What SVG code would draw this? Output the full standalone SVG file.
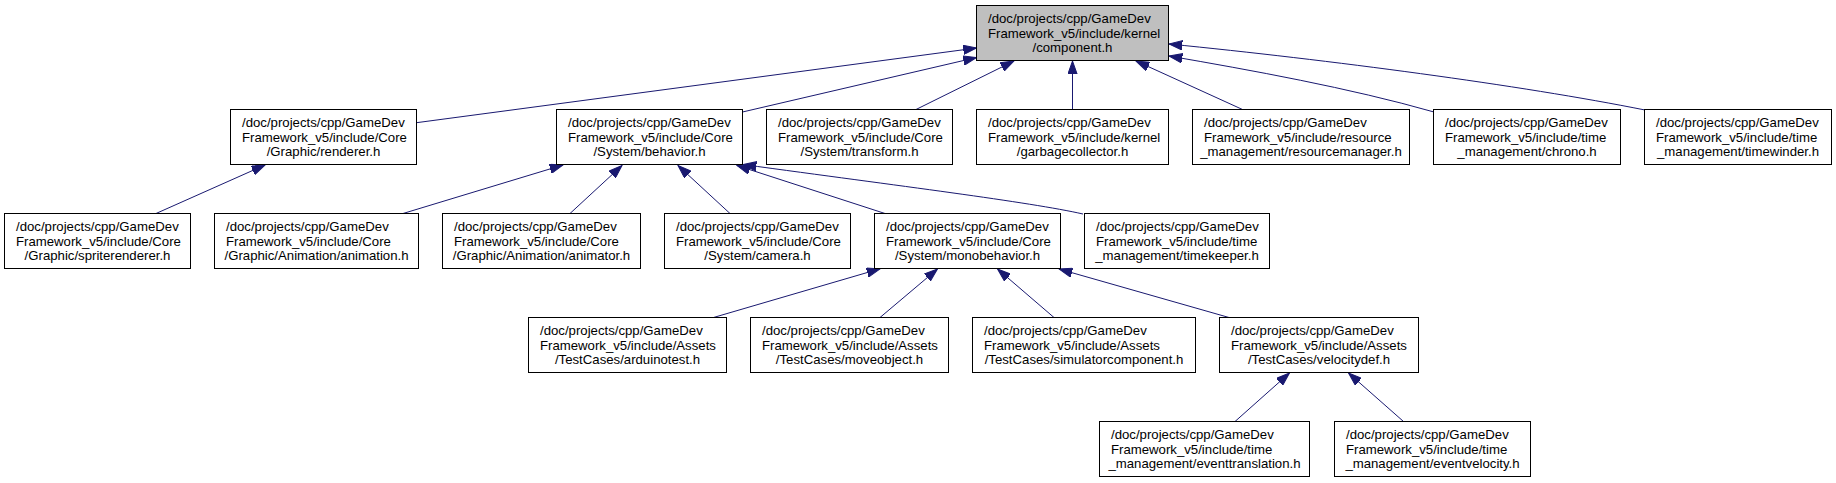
<svg xmlns="http://www.w3.org/2000/svg" width="1836" height="483" viewBox="0 0 1836 483">
<style>
  .bg { fill: #ffffff; }
  .box { fill: #ffffff; stroke: #000000; stroke-width: 1; }
  .root { fill: #bfbfbf; stroke: #000000; stroke-width: 1; }
  text { font-family: "Liberation Sans", Arial, Helvetica, sans-serif; font-size: 13.2px; fill: #000000; }
  .c { text-anchor: middle; }
  .edge { fill: none; stroke: #191970; stroke-width: 1; marker-end: url(#arr); }
</style>
<defs>
  <marker id="arr" markerUnits="userSpaceOnUse" markerWidth="14" markerHeight="10" viewBox="0 0 14 10" refX="13.3" refY="5" orient="auto">
    <path d="M0,0.3 L13.3,5 L0,9.7 z" fill="#191970" stroke="#191970" stroke-width="1"/>
  </marker>
</defs>
<rect class="bg" x="0" y="0" width="1836" height="483"/>

<g id="connectors">
  <path class="edge" d="M416.5,122.7 L976.5,48"/>
  <path class="edge" d="M742.5,112 L976.5,57.5"/>
  <path class="edge" d="M916,109.5 L1014,61"/>
  <path class="edge" d="M1072.5,109.5 L1072.5,61"/>
  <path class="edge" d="M1242.5,109.5 L1136,61"/>
  <path class="edge" d="M1434,112 C1350,88 1250,70 1169,56"/>
  <path class="edge" d="M1645,110 C1520,85 1330,60 1169,44"/>
  <path class="edge" d="M156,213.5 L265,165"/>
  <path class="edge" d="M403,213.5 L563,165"/>
  <path class="edge" d="M570,213.5 L622,165.5"/>
  <path class="edge" d="M730,213.5 L678,165.5"/>
  <path class="edge" d="M885,213.5 L737,165.5"/>
  <path class="edge" d="M1083,214 C1030,202 900,186 743,164.5"/>
  <path class="edge" d="M713.5,317.5 L880,268.8"/>
  <path class="edge" d="M880,317.5 L937.5,269"/>
  <path class="edge" d="M1054,317.5 L997.5,269"/>
  <path class="edge" d="M1229,317.5 L1059,269"/>
  <path class="edge" d="M1235,421.5 L1289.5,373"/>
  <path class="edge" d="M1403.5,421.5 L1348.5,373"/>
</g>

<g id="node-component">
  <rect class="root" x="976.5" y="5.5" width="192" height="55"/>
  <text x="988" y="23.2">/doc/projects/cpp/GameDev</text>
  <text x="988" y="37.5">Framework_v5/include/kernel</text>
  <text class="c" x="1072.5" y="51.8">/component.h</text>
</g>

<g id="node-renderer">
  <rect class="box" x="230.5" y="109.5" width="186" height="55"/>
  <text x="242" y="127.2">/doc/projects/cpp/GameDev</text>
  <text x="242" y="141.5">Framework_v5/include/Core</text>
  <text class="c" x="323.5" y="155.8">/Graphic/renderer.h</text>
</g>
<g id="node-behavior">
  <rect class="box" x="556.5" y="109.5" width="186" height="55"/>
  <text x="568" y="127.2">/doc/projects/cpp/GameDev</text>
  <text x="568" y="141.5">Framework_v5/include/Core</text>
  <text class="c" x="649.5" y="155.8">/System/behavior.h</text>
</g>
<g id="node-transform">
  <rect class="box" x="766.5" y="109.5" width="186" height="55"/>
  <text x="778" y="127.2">/doc/projects/cpp/GameDev</text>
  <text x="778" y="141.5">Framework_v5/include/Core</text>
  <text class="c" x="859.5" y="155.8">/System/transform.h</text>
</g>
<g id="node-garbagecollector">
  <rect class="box" x="976.5" y="109.5" width="192" height="55"/>
  <text x="988" y="127.2">/doc/projects/cpp/GameDev</text>
  <text x="988" y="141.5">Framework_v5/include/kernel</text>
  <text class="c" x="1072.5" y="155.8">/garbagecollector.h</text>
</g>
<g id="node-resourcemanager">
  <rect class="box" x="1192.5" y="109.5" width="217" height="55"/>
  <text x="1204" y="127.2">/doc/projects/cpp/GameDev</text>
  <text x="1204" y="141.5">Framework_v5/include/resource</text>
  <text class="c" x="1301" y="155.8">_management/resourcemanager.h</text>
</g>
<g id="node-chrono">
  <rect class="box" x="1433.5" y="109.5" width="187" height="55"/>
  <text x="1445" y="127.2">/doc/projects/cpp/GameDev</text>
  <text x="1445" y="141.5">Framework_v5/include/time</text>
  <text class="c" x="1527" y="155.8">_management/chrono.h</text>
</g>
<g id="node-timewinder">
  <rect class="box" x="1644.5" y="109.5" width="187" height="55"/>
  <text x="1656" y="127.2">/doc/projects/cpp/GameDev</text>
  <text x="1656" y="141.5">Framework_v5/include/time</text>
  <text class="c" x="1738" y="155.8">_management/timewinder.h</text>
</g>

<g id="node-spriterenderer">
  <rect class="box" x="4.5" y="213.5" width="186" height="55"/>
  <text x="16" y="231.2">/doc/projects/cpp/GameDev</text>
  <text x="16" y="245.5">Framework_v5/include/Core</text>
  <text class="c" x="97.5" y="259.8">/Graphic/spriterenderer.h</text>
</g>
<g id="node-animation">
  <rect class="box" x="214.5" y="213.5" width="204" height="55"/>
  <text x="226" y="231.2">/doc/projects/cpp/GameDev</text>
  <text x="226" y="245.5">Framework_v5/include/Core</text>
  <text class="c" x="316.5" y="259.8">/Graphic/Animation/animation.h</text>
</g>
<g id="node-animator">
  <rect class="box" x="442.5" y="213.5" width="198" height="55"/>
  <text x="454" y="231.2">/doc/projects/cpp/GameDev</text>
  <text x="454" y="245.5">Framework_v5/include/Core</text>
  <text class="c" x="541.5" y="259.8">/Graphic/Animation/animator.h</text>
</g>
<g id="node-camera">
  <rect class="box" x="664.5" y="213.5" width="186" height="55"/>
  <text x="676" y="231.2">/doc/projects/cpp/GameDev</text>
  <text x="676" y="245.5">Framework_v5/include/Core</text>
  <text class="c" x="757.5" y="259.8">/System/camera.h</text>
</g>
<g id="node-monobehavior">
  <rect class="box" x="874.5" y="213.5" width="186" height="55"/>
  <text x="886" y="231.2">/doc/projects/cpp/GameDev</text>
  <text x="886" y="245.5">Framework_v5/include/Core</text>
  <text class="c" x="967.5" y="259.8">/System/monobehavior.h</text>
</g>
<g id="node-timekeeper">
  <rect class="box" x="1084.5" y="213.5" width="185" height="55"/>
  <text x="1096" y="231.2">/doc/projects/cpp/GameDev</text>
  <text x="1096" y="245.5">Framework_v5/include/time</text>
  <text class="c" x="1177" y="259.8">_management/timekeeper.h</text>
</g>

<g id="node-arduinotest">
  <rect class="box" x="528.5" y="317.5" width="198" height="55"/>
  <text x="540" y="335.2">/doc/projects/cpp/GameDev</text>
  <text x="540" y="349.5">Framework_v5/include/Assets</text>
  <text class="c" x="627.5" y="363.8">/TestCases/arduinotest.h</text>
</g>
<g id="node-moveobject">
  <rect class="box" x="750.5" y="317.5" width="198" height="55"/>
  <text x="762" y="335.2">/doc/projects/cpp/GameDev</text>
  <text x="762" y="349.5">Framework_v5/include/Assets</text>
  <text class="c" x="849.5" y="363.8">/TestCases/moveobject.h</text>
</g>
<g id="node-simulatorcomponent">
  <rect class="box" x="972.5" y="317.5" width="223" height="55"/>
  <text x="984" y="335.2">/doc/projects/cpp/GameDev</text>
  <text x="984" y="349.5">Framework_v5/include/Assets</text>
  <text class="c" x="1084" y="363.8">/TestCases/simulatorcomponent.h</text>
</g>
<g id="node-velocitydef">
  <rect class="box" x="1219.5" y="317.5" width="199" height="55"/>
  <text x="1231" y="335.2">/doc/projects/cpp/GameDev</text>
  <text x="1231" y="349.5">Framework_v5/include/Assets</text>
  <text class="c" x="1319" y="363.8">/TestCases/velocitydef.h</text>
</g>

<g id="node-eventtranslation">
  <rect class="box" x="1099.5" y="421.5" width="210" height="55"/>
  <text x="1111" y="439.2">/doc/projects/cpp/GameDev</text>
  <text x="1111" y="453.5">Framework_v5/include/time</text>
  <text class="c" x="1204.5" y="467.8">_management/eventtranslation.h</text>
</g>
<g id="node-eventvelocity">
  <rect class="box" x="1334.5" y="421.5" width="196" height="55"/>
  <text x="1346" y="439.2">/doc/projects/cpp/GameDev</text>
  <text x="1346" y="453.5">Framework_v5/include/time</text>
  <text class="c" x="1432.5" y="467.8">_management/eventvelocity.h</text>
</g>
</svg>
